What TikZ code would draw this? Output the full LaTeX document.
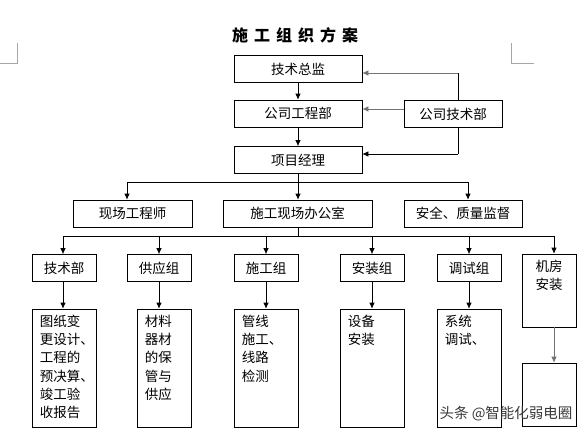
\documentclass[tikz,border=0pt]{standalone}
\usepackage{fontspec}
\setmainfont{Noto Sans CJK SC}
\usetikzlibrary{arrows.meta}

\tikzset{
  box/.style={draw, line width=0.7pt, inner sep=0pt, minimum height=27pt,
              font=\fontsize{13.5}{16}\selectfont},
  tallbox/.style={draw, line width=0.7pt, inner sep=0pt},
  note/.style={anchor=north west, inner sep=0pt, align=left,
               font=\fontsize{13.5}{18.3}\selectfont},
  plain/.style={line width=0.7pt},
  link/.style={line width=0.7pt, -{Latex[length=6pt,width=5.5pt]}},
  greylink/.style={link, draw=black!55},
  mark/.style={draw=black!35, line width=0.6pt}
}

\begin{document}
\begin{tikzpicture}[x=1pt,y=-1pt]
\useasboundingbox (0,0) rectangle (588,436);

% page corner marks
\draw[black!35, line width=0.6pt] (17,43) -- (17,63) -- (0,63);
\draw[black!35, line width=0.6pt] (511,43) -- (511,63) -- (534,63);

\node[font=\bfseries\fontsize{16}{18}\selectfont] (title) at (295,35)
  {施\hspace{6pt}工\hspace{6pt}组\hspace{6pt}织\hspace{6pt}方\hspace{6pt}案};

% top part
\node[box, minimum width=128pt] (zongjian)  at (298,69)    {技术总监};
\node[box, minimum width=128pt] (gongcheng) at (298,113.5) {公司工程部};
\node[box, minimum width=98pt]  (gsjs)      at (453,114)   {公司技术部};
\node[box, minimum width=128pt] (xiangmu)   at (298,160)   {项目经理};

% second row
\node[box, minimum width=119pt] (xianchang) at (132.5,213.5) {现场工程师};
\node[box, minimum width=149pt] (bangong)   at (297.5,213.5) {施工现场办公室};
\node[box, minimum width=118pt] (anquan)    at (463,213.5)   {安全、质量监督};

% groups
\node[box, minimum width=64pt] (jsb) at (64,268)  {技术部};
\node[box, minimum width=64pt] (gyz) at (159,268) {供应组};
\node[box, minimum width=64pt] (sgz) at (266,268) {施工组};
\node[box, minimum width=64pt] (azz) at (372,268) {安装组};
\node[box, minimum width=64pt] (tsz) at (469,268) {调试组};
\node[tallbox, minimum width=54pt, minimum height=73pt] (jf) at (549,290.5) {};
\node[note, anchor=north, align=center] (jft) at ([yshift=-6pt]jf.north) {机房\\安装};

% duty boxes
\node[tallbox, minimum width=64pt, minimum height=118pt] (d1) at (64,368)  {};
\node[tallbox, minimum width=54pt, minimum height=118pt] (d2) at (164,368) {};
\node[tallbox, minimum width=64pt, minimum height=118pt] (d3) at (266,368) {};
\node[tallbox, minimum width=64pt, minimum height=118pt] (d4) at (372,368) {};
\node[tallbox, minimum width=64pt, minimum height=118pt] (d5) at (469,368) {};
\node[tallbox, minimum width=54pt, minimum height=63pt]  (d6) at (549,394.5) {};

\node[note] (d1t) at ([xshift=8pt,yshift=-6pt]d1.north west) {图纸变\\更设计、\\工程的\\预决算、\\竣工验\\收报告};
\node[note] (d2t) at ([xshift=8pt,yshift=-6pt]d2.north west) {材料\\器材\\的保\\管与\\供应};
\node[note] (d3t) at ([xshift=8pt,yshift=-6pt]d3.north west) {管线\\施工、\\线路\\检测};
\node[note] (d4t) at ([xshift=8pt,yshift=-6pt]d4.north west) {设备\\安装};
\node[note] (d5t) at ([xshift=8pt,yshift=-6pt]d5.north west) {系统\\调试、};

% links at the top
\draw[link] (zongjian) -- (gongcheng);
\draw[link] (gongcheng) -- (xiangmu);

\coordinate (up) at (458,73);
\draw[plain] (up |- gsjs.north) -- (up);
\draw[greylink] (up) -- (up -| zongjian.east);
\draw[greylink] ([yshift=5pt]gsjs.west) -- ([yshift=5pt]gsjs.west -| gongcheng.east);

\coordinate (down) at (458,154);
\draw[plain] (down |- gsjs.south) -- (down);
\draw[link] (down) -- (down -| xiangmu.east);

% first bus
\coordinate (bus1) at (298,182);
\draw[plain] (bus1 |- xiangmu.south) -- (bus1);
\draw[plain] (127,182) -- (468,182);
\foreach \n/\x in {xianchang/127, bangong/298, anquan/468}
  {\draw[link] (\x,182) -- (\x,0 |- \n.north);}

% second bus
\coordinate (bus2) at (298,236);
\draw[plain] (bus2 |- bangong.south) -- (bus2);
\draw[plain] (63,236) -- (554,236);
\foreach \n/\x in {jsb/63, gyz/159, sgz/266, azz/372, tsz/469, jf/554}
  {\draw[link] (\x,236) -- (\x,0 |- \n.north);}

% groups to duties
\foreach \a/\b/\x in {jsb/d1/63, gyz/d2/159, sgz/d3/266, azz/d4/372, tsz/d5/469}
  {\draw[link] (\x,0 |- \a.south) -- (\x,0 |- \b.north);}
\draw[greylink] (554,0 |- jf.south) -- (554,0 |- d6.north);

\node[font=\fontsize{14.5}{16}\selectfont, text=black!78] (wm) at (506,414) {头条 @智能化弱电圈};

\end{tikzpicture}
\end{document}
